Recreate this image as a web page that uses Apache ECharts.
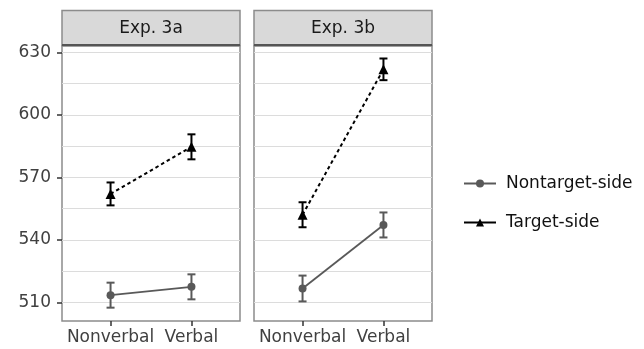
<!DOCTYPE html>
<html>
<head>
<meta charset="utf-8">
<script src="https://cdn.jsdelivr.net/npm/echarts@6/dist/echarts.min.js"></script>
<style>
  html, body { margin: 0; padding: 0; background: #fff; }
  #chart { width: 644px; height: 349px; }
</style>
</head>
<body>
<div id="chart"></div>
<script>
// facet panels and x categories
const panels = ['Exp. 3a', 'Exp. 3b'];
const conditions = ['Nonverbal', 'Verbal'];
const conditionPos = [1, 2];

// means and error-bar half widths
const nontargetMean3a = [513.4, 517.4];
const nontargetErr3a = [6, 6];
const targetMean3a = [562, 584.6];
const targetErr3a = [5.5, 6];
const nontargetMean3b = [516.6, 547.1];
const nontargetErr3b = [6.2, 6];
const targetMean3b = [552, 621.8];
const targetErr3b = [6, 5.2];

// y axis
const yLabels = [510, 540, 570, 600, 630];
const yGrid = [510, 525, 540, 555, 570, 585, 600, 615, 630];
const yMin = 501;
const yMax = 633;

const panelData = [
  { nm: nontargetMean3a, ne: nontargetErr3a, tm: targetMean3a, te: targetErr3a },
  { nm: nontargetMean3b, ne: nontargetErr3b, tm: targetMean3b, te: targetErr3b }
];

const FONT = 'DejaVu Sans';
const GREY = '#595959';
const BLACK = '#000';

const panelLeft = [62, 254];
const panelWidth = 178;
const panelTop = 46;
const panelHeight = 275;

function points(means) {
  return means.map((m, i) => [conditionPos[i], m]);
}
function bars(means, errs) {
  return means.map((m, i) => [conditionPos[i], m - errs[i], m + errs[i]]);
}

function errorBar(color) {
  return function (params, api) {
    const x = api.value(0);
    const lo = api.coord([x, api.value(1)]);
    const hi = api.coord([x, api.value(2)]);
    const w = 4;
    const style = { stroke: color, lineWidth: 2 };
    return {
      type: 'group',
      children: [
        { type: 'line', shape: { x1: lo[0], y1: lo[1], x2: hi[0], y2: hi[1] }, style },
        { type: 'line', shape: { x1: lo[0] - w, y1: lo[1], x2: lo[0] + w, y2: lo[1] }, style },
        { type: 'line', shape: { x1: hi[0] - w, y1: hi[1], x2: hi[0] + w, y2: hi[1] }, style }
      ]
    };
  };
}

const grids = panels.map((p, i) => ({
  left: panelLeft[i],
  top: panelTop,
  width: panelWidth,
  height: panelHeight,
  show: true,
  borderColor: '#8c8c8c',
  borderWidth: 1.5,
  backgroundColor: 'transparent'
}));

const xAxes = panels.map((p, i) => ({
  type: 'value',
  gridIndex: i,
  min: 0.4,
  max: 2.6,
  axisLine: { show: false },
  splitLine: { show: false },
  axisTick: { show: true, customValues: conditionPos, length: 5, lineStyle: { color: '#333', width: 1.5 } },
  axisLabel: {
    customValues: conditionPos,
    formatter: v => conditions[conditionPos.indexOf(v)],
    color: '#404040',
    fontSize: 17,
    fontFamily: FONT,
    margin: 8
  }
}));

const yAxes = panels.map((p, i) => ({
  type: 'value',
  gridIndex: i,
  min: yMin,
  max: yMax,
  axisLine: { show: false },
  axisTick: { show: false, customValues: yGrid },
  axisLabel: { show: false },
  splitLine: { show: true, lineStyle: { color: '#dcdcdc', width: 1 } }
}));
// ticks + labels on the left of the first panel only
yAxes.push({
  type: 'value',
  gridIndex: 0,
  position: 'left',
  min: yMin,
  max: yMax,
  axisLine: { show: false },
  splitLine: { show: false },
  axisTick: { show: true, customValues: yLabels, length: 5, lineStyle: { color: '#333', width: 1.5 } },
  axisLabel: { customValues: yLabels, color: '#404040', fontSize: 17, fontFamily: FONT, margin: 11 }
});

const series = [];
panelData.forEach((d, i) => {
  series.push({
    name: 'Nontarget-side',
    type: 'line',
    xAxisIndex: i,
    yAxisIndex: i,
    data: points(d.nm),
    symbol: 'circle',
    symbolSize: 8,
    itemStyle: { color: GREY },
    lineStyle: { color: GREY, width: 1.8 },
    z: 3
  });
  series.push({
    type: 'custom',
    xAxisIndex: i,
    yAxisIndex: i,
    data: bars(d.nm, d.ne),
    encode: { x: 0, y: [1, 2] },
    renderItem: errorBar(GREY),
    z: 2
  });
  series.push({
    name: 'Target-side',
    type: 'line',
    xAxisIndex: i,
    yAxisIndex: i,
    data: points(d.tm),
    symbol: 'triangle',
    symbolSize: 10,
    itemStyle: { color: BLACK },
    lineStyle: { color: BLACK, width: 2, type: [3.5, 3] },
    z: 3
  });
  series.push({
    type: 'custom',
    xAxisIndex: i,
    yAxisIndex: i,
    data: bars(d.tm, d.te),
    encode: { x: 0, y: [1, 2] },
    renderItem: errorBar(BLACK),
    z: 2
  });
});

// facet strips
const graphics = [];
panels.forEach((p, i) => {
  graphics.push({
    type: 'rect',
    shape: { x: panelLeft[i], y: 10.5, width: panelWidth, height: 35 },
    style: { fill: '#d9d9d9', stroke: '#8c8c8c', lineWidth: 1.5 },
    z: 10
  });
  graphics.push({
    type: 'line',
    shape: { x1: panelLeft[i], y1: 45, x2: panelLeft[i] + panelWidth, y2: 45 },
    style: { stroke: '#555', lineWidth: 2 },
    z: 11
  });
  graphics.push({
    type: 'text',
    x: panelLeft[i] + panelWidth / 2,
    y: 28.5,
    style: {
      text: p,
      fill: '#1a1a1a',
      font: '17px "DejaVu Sans"',
      align: 'center',
      verticalAlign: 'middle'
    },
    z: 12
  });
});

const chart = echarts.init(document.getElementById('chart'));
chart.setOption({
  animation: false,
  backgroundColor: '#fff',
  textStyle: { fontFamily: FONT },
  grid: grids,
  xAxis: xAxes,
  yAxis: yAxes,
  legend: {
    orient: 'vertical',
    left: 458,
    top: 170,
    itemWidth: 32,
    itemHeight: 10,
    itemGap: 22,
    data: ['Nontarget-side', 'Target-side'],
    lineStyle: { type: 'solid', width: 2 },
    textStyle: { fontSize: 17, color: '#111', fontFamily: FONT, padding: [0, 0, 0, 5] }
  },
  graphic: graphics,
  series
});
</script>
</body>
</html>
